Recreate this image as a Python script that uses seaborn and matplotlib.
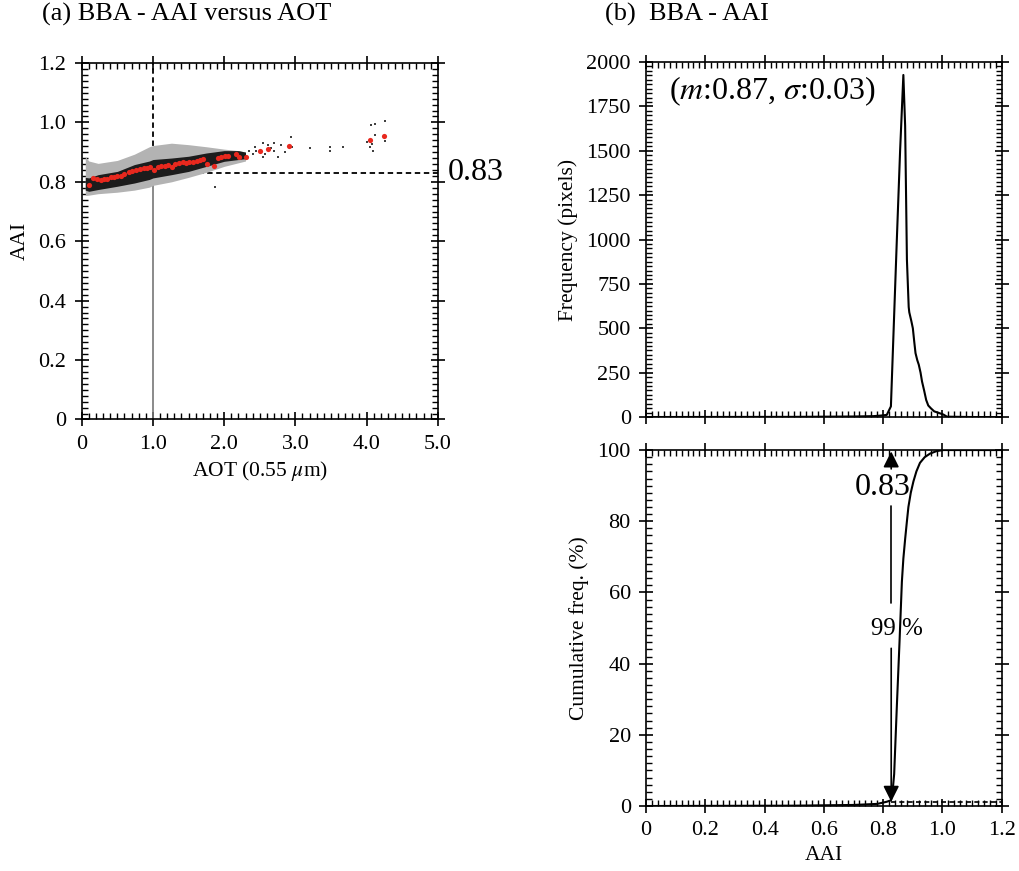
import numpy as np
import pandas as pd
import matplotlib
matplotlib.use("Agg")
import matplotlib.pyplot as plt
import seaborn as sns
from matplotlib.ticker import MultipleLocator, FixedLocator, FixedFormatter

# ---------------- data ----------------
# (a) binned mean AAI versus AOT (red points)
aot_mean = [0.10, 0.16, 0.21, 0.27, 0.31, 0.36, 0.41, 0.45, 0.50, 0.55, 0.60, 0.66,
            0.71, 0.76, 0.82, 0.87, 0.91, 0.96, 1.02, 1.07, 1.12, 1.17, 1.21, 1.27,
            1.31, 1.36, 1.42, 1.46, 1.51, 1.56, 1.62, 1.66, 1.71, 1.76, 1.86, 1.91,
            1.96, 2.01, 2.06, 2.16, 2.21, 2.31, 2.50, 2.61, 2.91, 4.05, 4.25]
aai_mean = [0.790, 0.812, 0.810, 0.806, 0.808, 0.811, 0.815, 0.817, 0.819, 0.821, 0.826, 0.832,
            0.837, 0.841, 0.844, 0.846, 0.848, 0.850, 0.841, 0.850, 0.853, 0.853, 0.855, 0.850,
            0.859, 0.864, 0.866, 0.864, 0.866, 0.868, 0.870, 0.873, 0.877, 0.859, 0.853, 0.879,
            0.882, 0.888, 0.886, 0.893, 0.882, 0.882, 0.903, 0.911, 0.922, 0.940, 0.955]

# (a) envelope of the pixel cloud: outer (grey) and core (black)
env_aot  = [0.05, 0.10, 0.23, 0.50, 0.74, 0.95, 1.00, 1.26, 1.50, 1.75, 2.00, 2.20, 2.30]
gray_lo  = [0.755, 0.755, 0.760, 0.765, 0.772, 0.782, 0.788, 0.800, 0.815, 0.832, 0.852, 0.864, 0.870]
gray_hi  = [0.885, 0.870, 0.862, 0.872, 0.893, 0.918, 0.922, 0.930, 0.925, 0.918, 0.910, 0.905, 0.900]
black_lo = [0.772, 0.768, 0.774, 0.785, 0.796, 0.808, 0.813, 0.824, 0.835, 0.852, 0.869, 0.875, 0.878]
black_hi = [0.815, 0.813, 0.824, 0.835, 0.858, 0.870, 0.875, 0.880, 0.886, 0.897, 0.905, 0.905, 0.900]

# (a) sparse pixels at high AOT
sparse_aot = [2.40, 2.43, 2.54, 2.55, 2.70, 2.70, 2.75, 2.94, 2.96, 3.49, 3.49, 3.67,
              4.05, 4.06, 4.09, 4.12, 4.12, 4.26, 4.26, 1.87, 2.35, 2.62, 2.85, 3.20,
              2.45, 2.58, 2.66, 2.80, 4.00, 4.08]
sparse_aai = [0.894, 0.916, 0.931, 0.883, 0.931, 0.903, 0.885, 0.952, 0.918, 0.916, 0.903, 0.916,
              0.916, 0.991, 0.905, 0.994, 0.957, 1.003, 0.939, 0.781, 0.905, 0.925, 0.900, 0.915,
              0.905, 0.895, 0.915, 0.925, 0.935, 0.928]

# (b) frequency distribution of AAI
hist_aai  = [0.00, 0.50, 0.70, 0.767, 0.790, 0.812, 0.826, 0.846, 0.857, 0.868, 0.874,
             0.880, 0.886, 0.888, 0.895, 0.900, 0.905, 0.909, 0.915, 0.920, 0.926, 0.931,
             0.938, 0.945, 0.952, 0.961, 0.972, 0.986, 1.003, 1.015, 1.10, 1.20]
hist_freq = [0, 1, 3, 5, 8, 12, 60, 1000, 1500, 1927, 1640,
             887, 620, 590, 540, 500, 420, 360, 320, 295, 250, 200,
             150, 96, 65, 49, 32, 24, 14, 2, 0, 0]

# (b) cumulative frequency
cum_aai = [0.00, 0.50, 0.70, 0.78, 0.812, 0.826, 0.831, 0.837, 0.846, 0.855, 0.863,
           0.868, 0.874, 0.880, 0.885, 0.893, 0.902, 0.912, 0.924, 0.940, 0.958,
           0.980, 1.003, 1.20]
cum_pct = [0.0, 0.1, 0.3, 0.6, 1.2, 1.6, 3.5, 9.0, 28.0, 46.0, 63.0,
           69.5, 75.0, 80.0, 84.0, 88.0, 91.2, 94.0, 96.4, 98.0, 99.0,
           99.7, 100.0, 100.0]

threshold_aot = 1.0
threshold_aai = 0.83
arrow_aai = 0.827
pct_low = 1.2
pct_high = 99.6
mean_aai = 0.87
std_aai = 0.03

# ---------------- style ----------------
sns.set_style("ticks")
plt.rcParams['font.family'] = ['Liberation Serif', 'DejaVu Serif']
plt.rcParams['mathtext.fontset'] = 'stix'
plt.rcParams['axes.linewidth'] = 1.2
plt.rcParams['text.color'] = 'black'
plt.rcParams['axes.labelcolor'] = 'black'
plt.rcParams['xtick.color'] = 'black'
plt.rcParams['ytick.color'] = 'black'

fig = plt.figure(figsize=(10.19, 8.71), dpi=100)
ax_a = fig.add_axes([0.0802, 0.5184, 0.3494, 0.4093])
ax_h = fig.add_axes([0.6340, 0.5212, 0.3491, 0.4076])
ax_c = fig.add_axes([0.6340, 0.0746, 0.3491, 0.4087])


def style_axes(ax):
    ax.tick_params(which='major', direction='inout', length=10, width=1.2,
                   top=True, right=True, labelsize=16, pad=6, colors='black')
    ax.tick_params(which='minor', direction='in', length=4.5, width=1.0,
                   top=True, right=True, colors='black')
    for s in ax.spines.values():
        s.set_linewidth(1.2)
        s.set_color('black')
    ax.set_facecolor('white')


# ---------------- panel (a) ----------------
ax_a.fill_between(env_aot, gray_lo, gray_hi, color='#b3b3b3', lw=0, zorder=2)
ax_a.fill_between(env_aot, black_lo, black_hi, color='#1c1c1c', lw=0, zorder=3)
ax_a.plot([threshold_aot, threshold_aot], [0, threshold_aai], color='#777777', lw=1.2, zorder=1)
ax_a.plot([threshold_aot, threshold_aot], [threshold_aai, 1.2], color='black', lw=1.3,
          ls=(0, (3, 2)), zorder=1)
ax_a.plot([threshold_aot, 5.0], [threshold_aai, threshold_aai], color='black', lw=1.3,
          ls=(0, (3, 2)), zorder=1)
sns.scatterplot(x=sparse_aot, y=sparse_aai, ax=ax_a, color='#404040', marker='s', s=4,
                linewidth=0, zorder=4, legend=False)
sns.scatterplot(x=aot_mean, y=aai_mean, ax=ax_a, color='#e8281e', s=14,
                linewidth=0, zorder=5, legend=False)
ax_a.set_xlim(0, 5.0)
ax_a.set_ylim(0, 1.2)
ax_a.xaxis.set_major_locator(FixedLocator([0, 1, 2, 3, 4, 5]))
ax_a.xaxis.set_major_formatter(FixedFormatter(['0', '1.0', '2.0', '3.0', '4.0', '5.0']))
ax_a.xaxis.set_minor_locator(MultipleLocator(0.1))
ax_a.yaxis.set_major_locator(FixedLocator([0, 0.2, 0.4, 0.6, 0.8, 1.0, 1.2]))
ax_a.yaxis.set_major_formatter(FixedFormatter(['0', '0.2', '0.4', '0.6', '0.8', '1.0', '1.2']))
ax_a.yaxis.set_minor_locator(MultipleLocator(0.02))
style_axes(ax_a)
ax_a.set_xlabel(r'AOT (0.55 $\mu$m)', fontsize=15.5, labelpad=4)
ax_a.set_ylabel('AAI', fontsize=15.5, labelpad=6)
ax_a.text(5.14, threshold_aai, '0.83', fontsize=23, ha='left', va='center',
          clip_on=False)

# ---------------- panel (b) top: frequency ----------------
sns.lineplot(x=hist_aai, y=hist_freq, ax=ax_h, color='black', lw=1.5,
             estimator=None, sort=False)
ax_h.set_xlim(0, 1.2)
ax_h.set_ylim(0, 2000)
ax_h.xaxis.set_major_locator(MultipleLocator(0.2))
ax_h.xaxis.set_minor_locator(MultipleLocator(0.02))
ax_h.yaxis.set_major_locator(MultipleLocator(250))
ax_h.yaxis.set_minor_locator(MultipleLocator(25))
style_axes(ax_h)
ax_h.tick_params(labelbottom=False)
ax_h.set_ylabel('Frequency (pixels)', fontsize=15.5, labelpad=6)
ax_h.text(0.079, 1835, r'($m$:%.2f, $\sigma$:%.2f)' % (mean_aai, std_aai),
          fontsize=23, ha='left', va='center')

# ---------------- panel (b) bottom: cumulative ----------------
sns.lineplot(x=cum_aai, y=cum_pct, ax=ax_c, color='black', lw=1.5,
             estimator=None, sort=False)
ax_c.plot([arrow_aai, 1.2], [pct_low, pct_low], color='black', lw=1.2, ls=(0, (3, 2)))
ax_c.annotate('', xy=(arrow_aai, pct_high), xytext=(arrow_aai, 94.7),
              arrowprops=dict(arrowstyle='-|>', color='black', lw=1.2,
                              mutation_scale=24, shrinkA=0, shrinkB=0))
ax_c.plot([arrow_aai, arrow_aai], [56.9, 84.3], color='black', lw=1.2)
ax_c.annotate('', xy=(arrow_aai, pct_low), xytext=(arrow_aai, 44.3),
              arrowprops=dict(arrowstyle='-|>', color='black', lw=1.2,
                              mutation_scale=24, shrinkA=0, shrinkB=0))
ax_c.text(0.797, 89.5, '0.83', fontsize=23, ha='center', va='center')
ax_c.text(0.846, 49.8, '99 %', fontsize=18, ha='center', va='center')
ax_c.set_xlim(0, 1.2)
ax_c.set_ylim(0, 100)
ax_c.xaxis.set_major_locator(FixedLocator([0, 0.2, 0.4, 0.6, 0.8, 1.0, 1.2]))
ax_c.xaxis.set_major_formatter(FixedFormatter(['0', '0.2', '0.4', '0.6', '0.8', '1.0', '1.2']))
ax_c.xaxis.set_minor_locator(MultipleLocator(0.02))
ax_c.yaxis.set_major_locator(MultipleLocator(20))
ax_c.yaxis.set_minor_locator(MultipleLocator(2))
style_axes(ax_c)
ax_c.set_xlabel('AAI', fontsize=15.5, labelpad=4)
ax_c.set_ylabel('Cumulative freq. (%)', fontsize=15.5, labelpad=6)

# ---------------- titles ----------------
fig.text(0.041, 0.983, '(a) BBA - AAI versus AOT', fontsize=19, ha='left', va='center')
fig.text(0.594, 0.983, '(b)  BBA - AAI', fontsize=19, ha='left', va='center')

fig.savefig('out.png', dpi=100, facecolor='white')
